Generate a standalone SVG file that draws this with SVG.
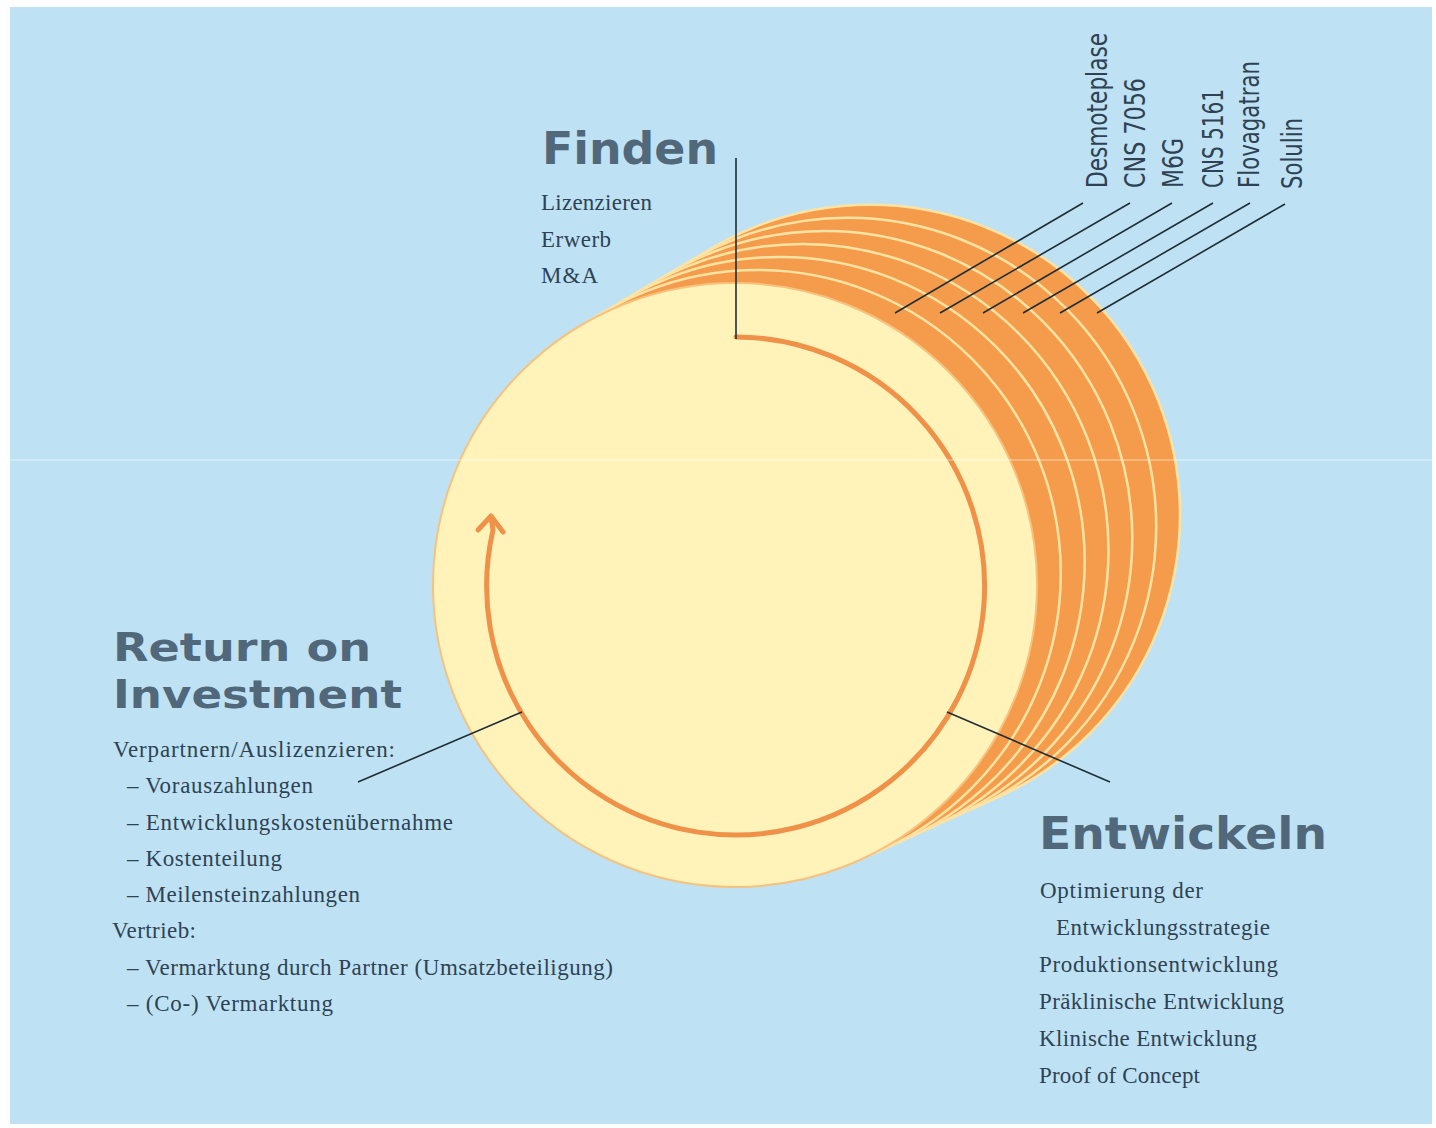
<svg xmlns="http://www.w3.org/2000/svg" width="1436" height="1128" viewBox="0 0 1436 1128">
<style>
.title{font-family:"DejaVu Sans","Liberation Sans",sans-serif;font-weight:bold;fill:#51677A;font-size:44px}
.roi{font-size:39px}
.body{font-family:"Liberation Serif","DejaVu Serif",serif;fill:#2E4254;font-size:23px}
.lab{font-family:"Liberation Sans Narrow","DejaVu Sans Condensed","Liberation Sans",sans-serif;fill:#2E4254;font-size:28px}
.back{fill:#F59C4C;stroke:#FFE3A3;stroke-width:2.5}
.front{fill:#FFF3BA;stroke:#F7C27E;stroke-width:2}
.conn{stroke:#1F2D36;stroke-width:1.6;fill:none}
.cycle{stroke:#EF9148;stroke-width:5;fill:none;stroke-linecap:round;stroke-linejoin:round}
</style>
<rect x="0" y="0" width="1436" height="1128" fill="#FFFFFF"/>
<rect x="10" y="7" width="1422" height="1117" fill="#BEE2F4"/>

<g id="node-stack">
<circle class="back" cx="870" cy="514.8" r="310"/>
<circle class="back" cx="847.5" cy="526.5" r="308.7"/>
<circle class="back" cx="825" cy="538.2" r="307.3"/>
<circle class="back" cx="802.5" cy="549.9" r="306"/>
<circle class="back" cx="780" cy="561.6" r="304.7"/>
<circle class="back" cx="757.5" cy="573.3" r="303.3"/>
<circle class="front" cx="735" cy="585" r="302"/>
</g>

<g id="node-cycle">
<path class="cycle" d="M736,337 A249,249 0 1 1 493,530 L491,517"/>
<polyline class="cycle" points="478,530 491,516 503,532"/>
</g>

<g id="connectors">
<line class="conn" x1="736" y1="158" x2="736" y2="339"/>
<line class="conn" x1="358" y1="782" x2="522" y2="712"/>
<line class="conn" x1="947" y1="712" x2="1110" y2="782"/>
<line class="conn" x1="1083" y1="203" x2="895" y2="313"/>
<line class="conn" x1="1130" y1="203" x2="940" y2="313"/>
<line class="conn" x1="1172" y1="203" x2="983" y2="313"/>
<line class="conn" x1="1213" y1="203" x2="1023" y2="313"/>
<line class="conn" x1="1250" y1="203" x2="1060" y2="313"/>
<line class="conn" x1="1285" y1="204" x2="1097" y2="313"/>
</g>

<g id="node-finden">
<text class="title" x="542" y="164" textLength="176" lengthAdjust="spacingAndGlyphs">Finden</text>
<text class="body" x="541" y="210" textLength="111">Lizenzieren</text>
<text class="body" x="541" y="246.5" textLength="70">Erwerb</text>
<text class="body" x="541" y="283" textLength="57">M&amp;A</text>
</g>

<g id="node-roi">
<text class="title roi" x="113" y="661" textLength="258" lengthAdjust="spacingAndGlyphs">Return on</text>
<text class="title roi" x="113" y="708" textLength="289" lengthAdjust="spacingAndGlyphs">Investment</text>
<text class="body" x="113" y="757" textLength="282">Verpartnern/Auslizenzieren:</text>
<text class="body" x="127" y="793.3" textLength="186">– Vorauszahlungen</text>
<text class="body" x="127" y="829.6" textLength="326">– Entwicklungskostenübernahme</text>
<text class="body" x="127" y="865.9" textLength="155">– Kostenteilung</text>
<text class="body" x="127" y="902.1" textLength="233">– Meilensteinzahlungen</text>
<text class="body" x="112" y="938.4" textLength="84">Vertrieb:</text>
<text class="body" x="127" y="974.7" textLength="486">– Vermarktung durch Partner (Umsatzbeteiligung)</text>
<text class="body" x="127" y="1011" textLength="206">– (Co-) Vermarktung</text>
</g>

<g id="node-entwickeln">
<text class="title" x="1039" y="849" textLength="288" lengthAdjust="spacingAndGlyphs">Entwickeln</text>
<text class="body" x="1040" y="898" textLength="163">Optimierung der</text>
<text class="body" x="1056" y="935" textLength="214">Entwicklungsstrategie</text>
<text class="body" x="1039" y="972" textLength="239">Produktionsentwicklung</text>
<text class="body" x="1039" y="1009" textLength="245">Präklinische Entwicklung</text>
<text class="body" x="1039" y="1046" textLength="218">Klinische Entwicklung</text>
<text class="body" x="1039" y="1083" textLength="161">Proof of Concept</text>
</g>

<g id="node-desmoteplase"><text class="lab" transform="translate(1107,188) rotate(-90)" textLength="155" lengthAdjust="spacingAndGlyphs">Desmoteplase</text></g>
<g id="node-cns7056"><text class="lab" transform="translate(1145,188) rotate(-90)" textLength="110" lengthAdjust="spacingAndGlyphs">CNS 7056</text></g>
<g id="node-m6g"><text class="lab" transform="translate(1183,188) rotate(-90)" textLength="50" lengthAdjust="spacingAndGlyphs">M6G</text></g>
<g id="node-cns5161"><text class="lab" transform="translate(1223,188) rotate(-90)" textLength="99" lengthAdjust="spacingAndGlyphs">CNS 5161</text></g>
<g id="node-flovagatran"><text class="lab" transform="translate(1259,188) rotate(-90)" textLength="127" lengthAdjust="spacingAndGlyphs">Flovagatran</text></g>
<g id="node-solulin"><text class="lab" transform="translate(1302,189) rotate(-90)" textLength="71" lengthAdjust="spacingAndGlyphs">Solulin</text></g>

<line x1="10" y1="460" x2="1432" y2="460" stroke="#FFFFFF" stroke-opacity="0.55" stroke-width="1.2"/>
</svg>
